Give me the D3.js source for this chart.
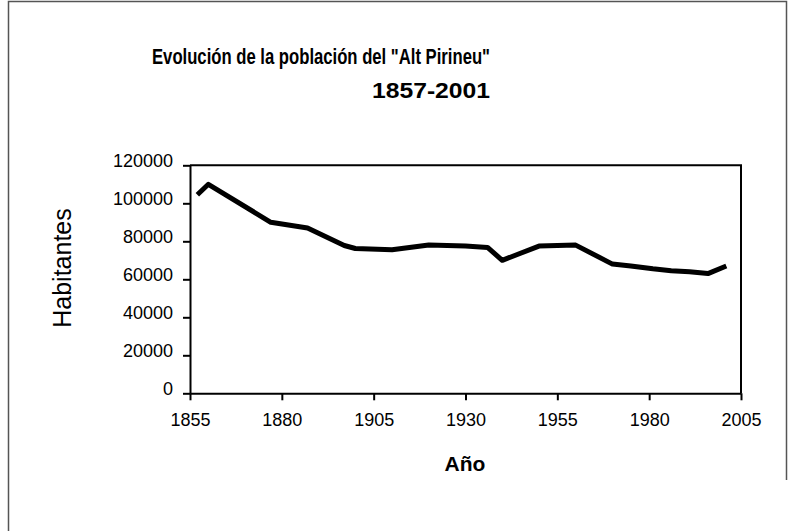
<!DOCTYPE html>
<meta charset="utf-8">
<style>
  body { margin: 0; background: #fff; }
  svg { display: block; font-family: "Liberation Sans", Arial, sans-serif; }
</style>
<svg width="794" height="531"></svg>
<script src="https://cdn.jsdelivr.net/npm/d3@7"></script>
<script>

var years = [1857, 1860, 1877, 1887, 1897, 1900, 1910, 1920, 1930, 1936, 1940, 1950, 1960, 1970, 1975, 1981, 1986, 1991, 1996, 2001];
var habitantes = [104500, 110000, 90000, 87000, 77800, 76200, 75500, 78000, 77500, 76800, 70000, 77500, 78000, 68000, 67000, 65500, 64500, 64000, 63000, 67000];
var xTicks = [1855, 1880, 1905, 1930, 1955, 1980, 2005];
var yTicks = [0, 20000, 40000, 60000, 80000, 100000, 120000];

var svg = d3.select("svg");

// outer frame
svg.append("path")
    .attr("d", "M8.5,531 V1.5 H786.5 V480")
    .attr("fill", "none")
    .attr("stroke", "#555")
    .attr("stroke-width", 1.5);

var x = d3.scaleLinear().domain([1855, 2005]).range([190, 741]);
var y = d3.scaleLinear().domain([0, 120000]).range([393.3, 165.3]);

// plot frame (top & right)
svg.append("path")
    .attr("d", "M" + x(1855) + "," + y(120000) + " H" + x(2005) + " V" + y(0))
    .attr("fill", "none")
    .attr("stroke", "#000")
    .attr("stroke-width", 2);

var yAxis = svg.append("g")
    .attr("transform", "translate(" + x(1855) + ",0)")
    .call(d3.axisLeft(y).tickValues(yTicks).tickSize(7).tickSizeOuter(0).tickPadding(10).tickFormat(d3.format("d")));

var xAxis = svg.append("g")
    .attr("transform", "translate(0," + y(0) + ")")
    .call(d3.axisBottom(x).tickValues(xTicks).tickSize(7).tickSizeOuter(0).tickPadding(13).tickFormat(d3.format("d")));

[xAxis, yAxis].forEach(function(g) {
  g.select(".domain").attr("stroke", "#000").attr("stroke-width", 2);
  g.selectAll(".tick line").attr("stroke", "#000").attr("stroke-width", 2);
  g.selectAll(".tick text")
      .attr("fill", "#000")
      .style("font-size", "18px")
      .style("font-family", "'Liberation Sans', Arial, sans-serif");
});
yAxis.selectAll(".tick text").attr("dy", "0.08em");

var line = d3.line()
    .x(function(d, i) { return x(years[i]); })
    .y(function(d) { return y(d); });

svg.append("path")
    .datum(habitantes)
    .attr("d", line)
    .attr("fill", "none")
    .attr("stroke", "#000")
    .attr("stroke-width", 5)
    .attr("stroke-linejoin", "round");

// titles
svg.append("text")
    .attr("x", 152).attr("y", 64)
    .attr("textLength", 338).attr("lengthAdjust", "spacingAndGlyphs")
    .style("font-size", "22px").style("font-weight", "bold")
    .text("Evolución de la población del \"Alt Pirineu\"");

svg.append("text")
    .attr("x", 372).attr("y", 98)
    .attr("textLength", 118).attr("lengthAdjust", "spacingAndGlyphs")
    .style("font-size", "22px").style("font-weight", "bold")
    .text("1857-2001");

svg.append("text")
    .attr("x", 465).attr("y", 471)
    .attr("text-anchor", "middle")
    .style("font-size", "21px").style("font-weight", "bold")
    .text("Año");

svg.append("text")
    .attr("transform", "translate(71,268) rotate(-90)")
    .attr("text-anchor", "middle")
    .style("font-size", "25px")
    .text("Habitantes");

</script>
